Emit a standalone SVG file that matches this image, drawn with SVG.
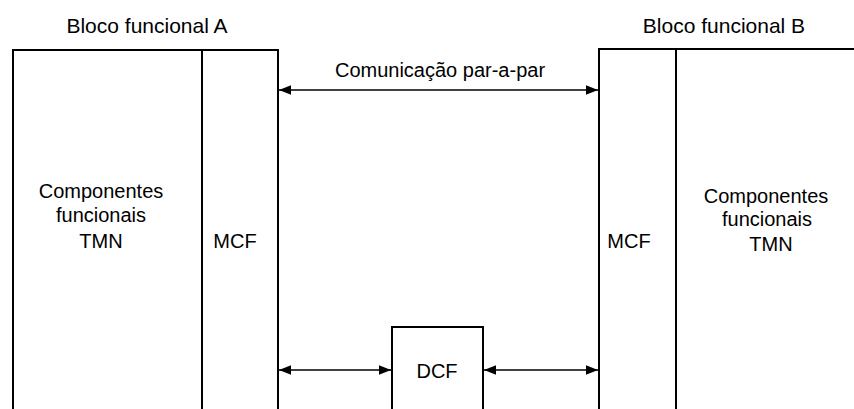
<svg xmlns="http://www.w3.org/2000/svg" width="854" height="409" viewBox="0 0 854 409">
<style>
.b{fill:none;stroke:#000;stroke-width:2}
.c{fill:none;stroke:#000;stroke-width:1.3}
text{font-family:"Liberation Sans",Arial,sans-serif;font-size:20px;fill:#000;text-anchor:middle}
.t{font-size:21px}
</style>
<defs>
<marker id="ah" viewBox="0 0 10 10" refX="10" refY="5" markerWidth="12" markerHeight="12" markerUnits="userSpaceOnUse" orient="auto-start-reverse">
<path d="M0,1 L10,5 L0,9 Z" fill="#000"/>
</marker>
</defs>
<rect width="854" height="409" fill="#fff"/>
<g id="blocoA">
<text class="t" x="147" y="33">Bloco funcional A</text>
<path class="b" d="M13,409 V50 H278 V409"/>
<text x="101" y="198">Componentes</text>
<text x="101" y="222">funcionais</text>
<text x="101" y="248">TMN</text>
</g>
<g id="mcfA">
<path class="b" d="M202,50 V409"/>
<text x="235" y="248">MCF</text>
</g>
<g id="blocoB">
<text class="t" x="724" y="33">Bloco funcional B</text>
<path class="b" d="M599,409 V49 H854"/>
<text x="766" y="203">Componentes</text>
<text x="767" y="226">funcionais</text>
<text x="771" y="251">TMN</text>
</g>
<g id="mcfB">
<path class="b" d="M676,49 V409"/>
<text x="629" y="248">MCF</text>
</g>
<g id="dcf">
<path class="b" d="M392,409 V327 H483 V409"/>
<text x="437" y="378">DCF</text>
</g>
<g id="connectors">
<line class="c" x1="279" y1="90" x2="598" y2="90" marker-start="url(#ah)" marker-end="url(#ah)"/>
<text x="440" y="77">Comunicação par-a-par</text>
<line class="c" x1="279" y1="370" x2="391" y2="370" marker-start="url(#ah)" marker-end="url(#ah)"/>
<line class="c" x1="484" y1="370" x2="598" y2="370" marker-start="url(#ah)" marker-end="url(#ah)"/>
</g>
</svg>
